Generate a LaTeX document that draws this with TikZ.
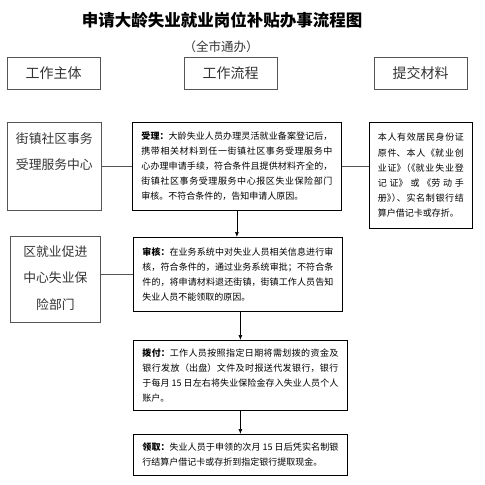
\documentclass[tikz,border=0pt]{standalone}
\usepackage{fontspec}
\setmainfont{Noto Sans CJK SC}
\usetikzlibrary{arrows.meta,shadows}
\XeTeXlinebreaklocale "zh"
\XeTeXlinebreakskip=0pt plus 2pt

\begin{document}
\begin{tikzpicture}[x=1pt,y=-1pt,
  headbox/.style={draw=lineGray, line width=0.8pt, minimum width=93pt, minimum height=32pt, inner sep=0pt, font=\fontsize{14}{16}\selectfont, text=txtGray},
  sidebox/.style={draw=lineGray, line width=0.8pt, anchor=north west, inner sep=0pt, font=\fontsize{12.8}{26.5}\selectfont, text=txtGray},
  flowbox/.style={draw=black, line width=0.8pt, fill=white, anchor=north west, inner xsep=9pt, align=justify, font=\fontsize{9}{15}\selectfont, drop shadow={shadow xshift=1pt, shadow yshift=-1pt, fill=black!35, opacity=1}},
  link/.style={draw=lineGray, line width=0.7pt},
  flow/.style={line width=0.7pt, -{Latex[length=5pt,width=4pt]}}
]

% Colori
\definecolor{lineGray}{HTML}{555555}
\definecolor{txtGray}{HTML}{333333}

\useasboundingbox (0,0) rectangle (485,485);

% 标题
\node[font=\fontsize{16.5}{18}\selectfont\bfseries] (title) at (222,20) {申请大龄失业就业岗位补贴办事流程图};
\node[font=\fontsize{12.5}{14}\selectfont, text=txtGray] (subtitle) at (221,47) {（全市通办）};

% 表头
\node[headbox] (hdsubject) at (53.5,73) {工作主体};
\node[headbox] (hdflow) at (230.5,73) {工作流程};
\node[headbox] (hdmaterial) at (420.5,73) {提交材料};

% 工作主体
\node[sidebox] (street) at (7,122) {\parbox[c][88pt][t]{94pt}{\centering\vspace*{10pt}街镇社区事务\\受理服务中心}};
\node[sidebox] (bureau) at (10,236) {\parbox[c][86pt][t]{90pt}{\centering\vspace*{9pt}区就业促进\\中心失业保\\险部门}};

% 工作流程
\node[flowbox, text width=191pt, minimum height=88pt] (accept) at (132,122)
  {\textbf{受理：}大龄失业人员办理灵活就业备案登记后，\linebreak
   携带相关材料到任一街镇社区事务受理服务中\linebreak
   心办理申请手续，符合条件且提供材料齐全的，\linebreak
   街镇社区事务受理服务中心报区失业保险部门\linebreak
   审核。不符合条件的，告知申请人原因。};

\node[flowbox, text width=191pt, minimum height=74pt] (review) at (133,237)
  {\textbf{审核：}在业务系统中对失业人员相关信息进行审\linebreak
   核，符合条件的，通过业务系统审批；不符合条\linebreak
   件的，将申请材料退还街镇，街镇工作人员告知\linebreak
   失业人员不能领取的原因。};

\node[flowbox, text width=196pt, minimum height=70pt] (pay) at (133,340)
  {\textbf{拨付：}工作人员按照指定日期将需划拨的资金及\linebreak
   银行发放（出盘）文件及时报送代发银行，银行\linebreak
   于每月 15 日左右将失业保险金存入失业人员个人\linebreak
   账户。};

\node[flowbox, text width=196pt, minimum height=41pt] (collect) at (133,434)
  {\textbf{领取：}失业人员于申领的次月 15 日后凭实名制银\linebreak
   行结算户借记卡或存折到指定银行提取现金。};

% 提交材料
\node[sidebox, draw=black, text=black, inner xsep=8.5pt, text width=86pt, minimum height=106pt, align=justify, font=\fontsize{9}{15.2}\selectfont] (docs) at (369,122)
  {本人有效居民身份证\linebreak
   原件、本人《就业创\linebreak
   业证》\kern-4pt（\kern-4pt《就业失业登\linebreak
   记证》或《劳动手\linebreak
   册》\kern-4pt）\kern-4pt、实名制银行结\linebreak
   算户借记卡或存折。};

% 连线
\draw[link] (street.east) -- (accept.west);
\draw[link] (bureau.east |- review.west) -- (review.west);
\draw[link] (accept.east) -- (accept.east -| docs.west);

% 箭头
\draw[flow] (accept.south) -- (accept.south |- review.north);
\draw[flow] (review.south -| pay.north) -- (pay.north);
\draw[flow] (pay.south) -- (collect.north);

\end{tikzpicture}
\end{document}
